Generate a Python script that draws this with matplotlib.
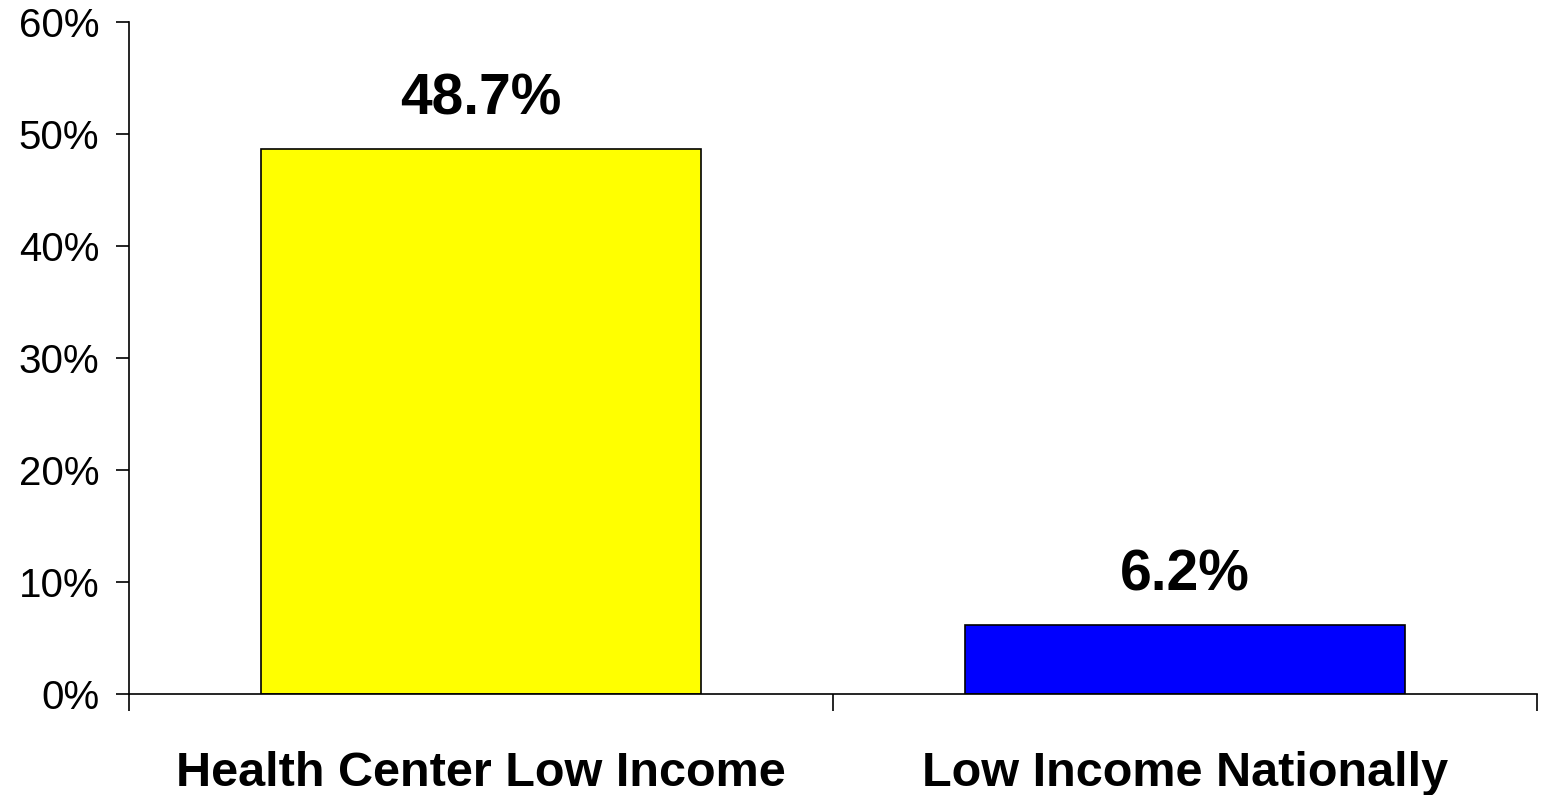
import matplotlib
matplotlib.use("Agg")
import matplotlib.pyplot as plt
from matplotlib.ticker import FixedLocator

categories = ["Health Center Low Income", "Low Income Nationally"]
values = [48.7, 6.2]
value_labels = ["48.7%", "6.2%"]
colors = ["#FFFF00", "#0000FF"]
yticks = [0, 10, 20, 30, 40, 50, 60]
ytick_labels = ["0%", "10%", "20%", "30%", "40%", "50%", "60%"]

plt.rcParams['font.family'] = ['Liberation Sans', 'DejaVu Sans']

fig = plt.figure(figsize=(15.41, 7.95), dpi=100)
ax = fig.add_axes([129/1541, 101/795, (1537-129)/1541, (694-22)/795])

x = list(range(len(categories)))
ax.bar(x, values, width=0.626, color=colors, edgecolor="black", linewidth=1.2, zorder=2)

for xi, v, lab in zip(x, values, value_labels):
    ax.text(xi, v + 3.0, lab, ha="center", va="baseline", fontsize=41, fontweight="bold")

ax.set_xlim(-0.5, len(categories) - 0.5)
ax.set_ylim(0, 60)
ax.set_yticks(yticks)
ax.set_yticklabels(ytick_labels, fontsize=29)

ax.set_xticks(x)
ax.set_xticklabels(categories, fontsize=35, fontweight="bold")
ax.tick_params(axis="x", which="major", length=0, pad=41)
ax.xaxis.set_minor_locator(FixedLocator([i - 0.5 for i in range(len(categories) + 1)]))
ax.tick_params(axis="x", which="minor", length=12, width=1.2, direction="out", color="black")
ax.tick_params(axis="y", length=9.5, width=1.2, direction="out", pad=12)

for s in ["top", "right"]:
    ax.spines[s].set_visible(False)
for s in ["left", "bottom"]:
    ax.spines[s].set_linewidth(1.2)
ax.spines["left"].set_bounds(0, 60)

fig.savefig("out.png", dpi=100)
